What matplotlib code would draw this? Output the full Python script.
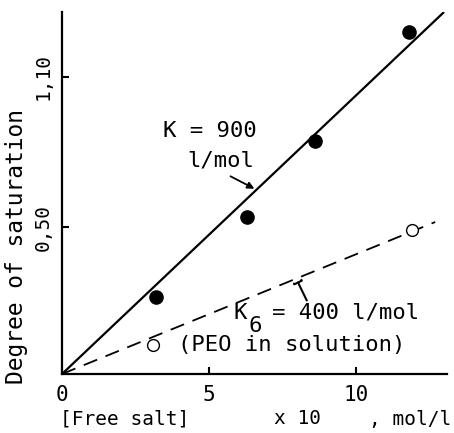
import matplotlib
matplotlib.use("Agg")
import matplotlib.pyplot as plt

# ---- data ----
filled_x = [3.2, 6.3, 8.6, 11.8]          # bound salt, PEO gel
filled_y = [0.22, 0.54, 0.845, 1.28]
open_x = [3.1, 11.9]                       # PEO in solution
open_y = [0.03, 0.49]
solid_x = [0.0, 13.0]                      # K = 900 l/mol
solid_y = [-0.088, 1.36]
dashed_x = [0.0, 12.7]                     # K6 = 400 l/mol
dashed_y = [-0.088, 0.52]
xtick_vals = [0, 5, 10]
xtick_labels = ["0", "5", "10"]
ytick_vals = [0.50, 1.10]
ytick_labels = ["0,50", "1,10"]

W, H = 454, 433
fig = plt.figure(figsize=(W / 100, H / 100), dpi=100)
L, R, B, T = 62, 447, 374, 12
ax = fig.add_axes([L / W, 1 - B / H, (R - L) / W, (B - T) / H])
ax.set_xlim(0, 13.1)
ax.set_ylim(-0.088, 1.36)

mono = "DejaVu Sans Mono"

ax.plot(solid_x, solid_y, color="black", lw=1.6, solid_capstyle="butt")
ax.plot(dashed_x, dashed_y, color="black", lw=1.3, dashes=(8, 5))
ax.plot(filled_x, filled_y, "o", color="black", ms=9.5, zorder=5)
ax.plot(open_x, open_y, "o", mfc="white", mec="black", mew=1.0, ms=8.5, zorder=5)

for s in ["top", "right"]:
    ax.spines[s].set_visible(False)
for s in ["left", "bottom"]:
    ax.spines[s].set_linewidth(1.6)

ax.set_xticks(xtick_vals)
ax.set_xticklabels(xtick_labels, family=mono, fontsize=15)
ax.set_yticks(ytick_vals)
ax.set_yticklabels(ytick_labels, family=mono, fontsize=14, rotation=90, va="center")
ax.tick_params(axis="both", direction="in", length=5, width=1.5)
ax.tick_params(axis="x", pad=8)
ax.tick_params(axis="y", pad=7)

# axis titles
ax.text(-0.07, -0.268, "[Free salt]", family=mono, fontsize=14, ha="left", va="center", clip_on=False)
ax.text(7.2, -0.268, "x 10", family=mono, fontsize=14, ha="left", va="center", clip_on=False)
ax.text(10.45, -0.268, ", mol/l", family=mono, fontsize=14, ha="left", va="center", clip_on=False)
fig.text(17 / W, 1 - 246 / H, "Degree of saturation", family=mono, fontsize=16.5,
         rotation=90, ha="center", va="center")

# annotations
afs = 16
ax.text(3.43, 0.885, "K = 900", family=mono, fontsize=afs, ha="left", va="center")
ax.text(4.25, 0.768, "l/mol", family=mono, fontsize=afs, ha="left", va="center")
ax.annotate("", xy=(6.63, 0.648), xytext=(5.65, 0.708),
            arrowprops=dict(arrowstyle="-|>", color="black", lw=1.3, mutation_scale=10))

ax.text(5.82, 0.156, "K", family=mono, fontsize=afs, ha="left", va="center")
ax.text(6.35, 0.104, "6", family=mono, fontsize=afs, ha="left", va="center")
ax.text(7.14, 0.156, "= 400 l/mol", family=mono, fontsize=afs, ha="left", va="center")
ax.annotate("", xy=(7.99, 0.288), xytext=(8.37, 0.196),
            arrowprops=dict(arrowstyle="-[", color="black", lw=1.5, mutation_scale=3))
ax.text(3.95, 0.03, "(PEO in solution)", family=mono, fontsize=afs, ha="left", va="center")

fig.savefig("out.png", dpi=100)
